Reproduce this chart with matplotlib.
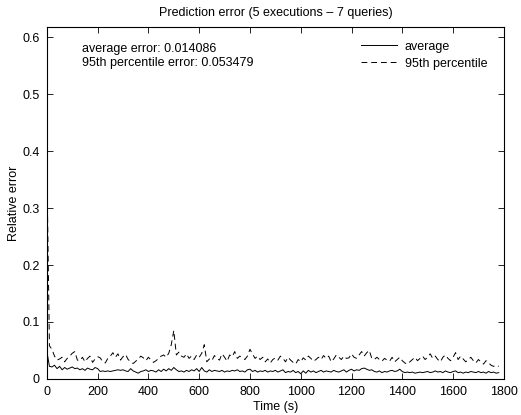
import matplotlib
matplotlib.use("Agg")
import matplotlib.pyplot as plt
import numpy as np

plt.rcParams['font.family'] = ['Liberation Sans', 'DejaVu Sans']
plt.rcParams['font.size'] = 9

# temps (s), pas de 10 s
temps = np.arange(0, 1790, 10)

# erreur relative moyenne
moyenne = [
    0.048, 0.022, 0.021, 0.024, 0.018, 0.022, 0.016, 0.020, 0.017, 0.019,
    0.021, 0.018, 0.019, 0.016, 0.018, 0.015, 0.019, 0.017, 0.016, 0.020,
    0.018, 0.013, 0.014, 0.013, 0.014, 0.013, 0.014, 0.015, 0.016, 0.015,
    0.016, 0.014, 0.013, 0.018, 0.014, 0.012, 0.010, 0.013, 0.014, 0.016,
    0.013, 0.015, 0.014, 0.012, 0.016, 0.013, 0.017, 0.014, 0.018, 0.015,
    0.020, 0.016, 0.013, 0.014, 0.012, 0.015, 0.013, 0.016, 0.014, 0.018,
    0.013, 0.020, 0.014, 0.012, 0.016, 0.013, 0.015, 0.014, 0.013, 0.015,
    0.012, 0.014, 0.013, 0.015, 0.014, 0.016, 0.013, 0.014, 0.012, 0.016,
    0.017, 0.013, 0.015, 0.012, 0.014, 0.013, 0.015, 0.012, 0.014, 0.013,
    0.015, 0.012, 0.014, 0.016, 0.011, 0.013, 0.012, 0.015, 0.011, 0.013,
    0.009, 0.014, 0.010, 0.015, 0.012, 0.014, 0.011, 0.013, 0.015, 0.012,
    0.014, 0.013, 0.012, 0.015, 0.013, 0.012, 0.014, 0.016, 0.012, 0.015,
    0.017, 0.014, 0.016, 0.015, 0.018, 0.019, 0.017, 0.015, 0.016, 0.013,
    0.012, 0.014, 0.011, 0.013, 0.012, 0.014, 0.015, 0.013, 0.014, 0.017,
    0.013, 0.011, 0.012, 0.011, 0.012, 0.010, 0.011, 0.012, 0.011, 0.012,
    0.013, 0.011, 0.012, 0.014, 0.012, 0.013, 0.011, 0.014, 0.012, 0.011,
    0.013, 0.014, 0.011, 0.012, 0.010, 0.012, 0.011, 0.013, 0.012, 0.011,
    0.013, 0.011, 0.012, 0.010, 0.013, 0.011, 0.012, 0.010, 0.011,
]

# 95e percentile de l'erreur relative
perc95 = [
    0.370, 0.058, 0.052, 0.040, 0.033, 0.035, 0.038, 0.030, 0.036, 0.040,
    0.045, 0.048, 0.033, 0.032, 0.038, 0.030, 0.036, 0.040, 0.029, 0.035,
    0.039, 0.037, 0.030, 0.028, 0.036, 0.040, 0.046, 0.038, 0.044, 0.033,
    0.039, 0.043, 0.034, 0.030, 0.027, 0.031, 0.035, 0.040, 0.037, 0.032,
    0.038, 0.033, 0.029, 0.032, 0.036, 0.040, 0.042, 0.038, 0.045, 0.060,
    0.085, 0.042, 0.047, 0.040, 0.038, 0.044, 0.036, 0.040, 0.034, 0.042,
    0.038, 0.045, 0.060, 0.030, 0.035, 0.032, 0.041, 0.036, 0.033, 0.044,
    0.038, 0.031, 0.042, 0.039, 0.048, 0.036, 0.040, 0.037, 0.034, 0.040,
    0.052, 0.044, 0.036, 0.040, 0.034, 0.038, 0.030, 0.035, 0.028, 0.034,
    0.037, 0.033, 0.040, 0.036, 0.030, 0.038, 0.033, 0.029, 0.026, 0.034,
    0.030, 0.037, 0.033, 0.040, 0.036, 0.031, 0.034, 0.038, 0.034, 0.041,
    0.036, 0.040, 0.030, 0.035, 0.042, 0.038, 0.034, 0.040, 0.036, 0.037,
    0.044, 0.038, 0.036, 0.042, 0.048, 0.040, 0.046, 0.050, 0.036, 0.034,
    0.038, 0.034, 0.031, 0.036, 0.033, 0.031, 0.038, 0.030, 0.034, 0.038,
    0.032, 0.028, 0.026, 0.030, 0.034, 0.038, 0.032, 0.036, 0.040, 0.034,
    0.038, 0.044, 0.036, 0.040, 0.034, 0.030, 0.038, 0.042, 0.036, 0.032,
    0.038, 0.046, 0.034, 0.040, 0.035, 0.030, 0.034, 0.038, 0.032, 0.028,
    0.034, 0.030, 0.026, 0.032, 0.028, 0.024, 0.022, 0.024, 0.022,
]

yticks = [0, 0.1, 0.2, 0.3, 0.4, 0.5, 0.6]
ylabels = ['0', '0.1', '0.2', '0.3', '0.4', '0.5', '0.6']

fig = plt.figure(figsize=(5.21, 4.15), dpi=100)
ax = fig.add_axes([0.090, 0.087, 0.877, 0.848])

ax.plot(temps, moyenne, '-', color='black', lw=0.7, label='average')
ax.plot(temps, perc95, '--', color='black', lw=0.7, dashes=(6, 4), label='95th percentile')

ax.set_xlim(0, 1800)
ax.set_ylim(0, 0.618)
ax.set_xticks(range(0, 1801, 200))
ax.set_yticks(yticks)
ax.set_yticklabels(ylabels)
ax.tick_params(direction='in', top=True, right=True, length=4, width=0.6, pad=5)
for s in ax.spines.values():
    s.set_linewidth(0.8)

ax.set_xlabel('Time (s)', labelpad=2)
ax.set_ylabel('Relative error', labelpad=1.5)
ax.set_title('Prediction error (5 executions \u2013 7 queries)', fontsize=9, pad=8)

ax.text(0.077, 0.955, 'average error: 0.014086\n95th percentile error: 0.053479',
        transform=ax.transAxes, va='top', ha='left', linespacing=1.2)

ax.legend(loc='upper right', bbox_to_anchor=(0.975, 0.975), frameon=False,
          handlelength=2.9, handletextpad=0.6, borderaxespad=0.0,
          labelspacing=0.4)

fig.savefig('out.png', dpi=100)
